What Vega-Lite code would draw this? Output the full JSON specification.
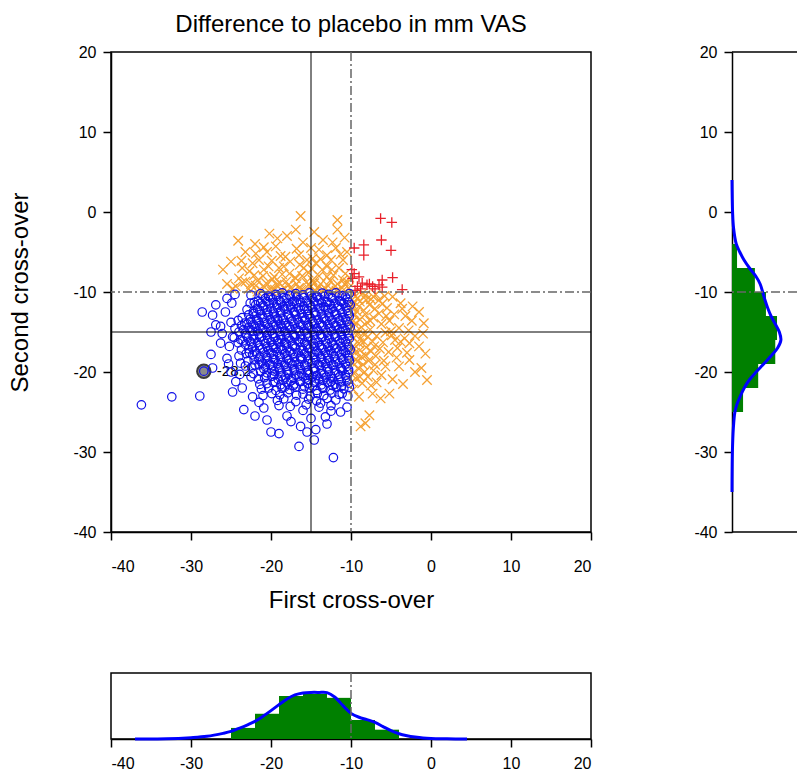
{
"$schema":"https://vega.github.io/schema/vega-lite/v6.json",
"padding":{"left":8,"top":12,"right":0,"bottom":0},
"bounds":"flush",
"spacing":141,
"columns":2,
"config":{
 "font":"Liberation Sans",
 "view":{"stroke":"black","strokeWidth":1.5},
 "axis":{"domainColor":"black","domainWidth":1.5,"tickColor":"black","tickWidth":1.5,"tickSize":8,"labelFont":"Liberation Sans","labelFontSize":16,"labelColor":"black","grid":false,"titleFont":"Liberation Sans","titleFontSize":24,"titleFontWeight":"normal","titleColor":"black"},
 "title":{"font":"Liberation Sans","fontSize":24,"fontWeight":"normal","color":"black"}
},
"datasets":{
 "blue":[
 {"x":-10.2,"y":-10.2},{"x":-11.1,"y":-10.45},{"x":-11.9,"y":-10.1},{"x":-12.8,"y":-10.3},{"x":-13.6,"y":-10.15},{"x":-14.3,"y":-10.5},{"x":-15.2,"y":-10.1},{"x":-16,"y":-10.35},{"x":-16.9,"y":-10.2},{"x":-17.7,"y":-10.4},{"x":-18.6,"y":-10.1},{"x":-19.4,"y":-10.3},{"x":-20.3,"y":-10.5},
 {"x":-10.5,"y":-10.9},{"x":-11.4,"y":-11.1},{"x":-12.3,"y":-10.8},{"x":-13.1,"y":-11.2},{"x":-13.9,"y":-10.9},{"x":-14.8,"y":-10.75},{"x":-15.6,"y":-11.1},{"x":-16.5,"y":-10.95},{"x":-17.3,"y":-11.2},{"x":-18.1,"y":-10.8},{"x":-19,"y":-11.05},{"x":-19.8,"y":-10.9},{"x":-20.7,"y":-10.8},{"x":-21.6,"y":-11.15},
 {"x":-10.1,"y":-11.6},{"x":-10.9,"y":-11.45},{"x":-11.7,"y":-11.75},{"x":-12.6,"y":-11.55},{"x":-13.4,"y":-11.85},{"x":-14.2,"y":-11.5},{"x":-15.1,"y":-11.65},{"x":-15.9,"y":-11.8},{"x":-16.8,"y":-11.4},{"x":-17.6,"y":-11.6},{"x":-18.5,"y":-11.85},{"x":-19.3,"y":-11.55},{"x":-20.2,"y":-11.45},{"x":-21,"y":-11.7},{"x":-21.9,"y":-11.6},{"x":-22.6,"y":-11.4},
 {"x":-10.4,"y":-12.3},{"x":-11.3,"y":-12.15},{"x":-12.1,"y":-12.45},{"x":-12.9,"y":-12.25},{"x":-13.8,"y":-12.1},{"x":-14.6,"y":-12.5},{"x":-15.4,"y":-12.3},{"x":-16.3,"y":-12.2},{"x":-17.1,"y":-12.45},{"x":-18,"y":-12.15},{"x":-18.8,"y":-12.35},{"x":-19.7,"y":-12.5},{"x":-20.5,"y":-12.2},{"x":-21.4,"y":-12.3},{"x":-22.2,"y":-12.45},{"x":-23,"y":-12.2},
 {"x":-10.2,"y":-13},{"x":-11,"y":-13.2},{"x":-11.8,"y":-12.85},{"x":-12.7,"y":-13.1},{"x":-13.5,"y":-13.25},{"x":-14.4,"y":-12.9},{"x":-15.2,"y":-13.05},{"x":-16.1,"y":-13.2},{"x":-16.9,"y":-12.85},{"x":-17.8,"y":-13},{"x":-18.6,"y":-13.25},{"x":-19.5,"y":-13.1},{"x":-20.3,"y":-12.9},{"x":-21.1,"y":-13.15},{"x":-22,"y":-13},{"x":-22.8,"y":-12.85},{"x":-23.6,"y":-13.2},
 {"x":-10.5,"y":-13.7},{"x":-11.4,"y":-13.55},{"x":-12.2,"y":-13.85},{"x":-13.1,"y":-13.6},{"x":-13.9,"y":-13.9},{"x":-14.8,"y":-13.7},{"x":-15.7,"y":-13.5},{"x":-16.5,"y":-13.8},{"x":-17.4,"y":-13.65},{"x":-18.2,"y":-13.9},{"x":-19.1,"y":-13.55},{"x":-19.9,"y":-13.75},{"x":-20.8,"y":-13.85},{"x":-21.6,"y":-13.6},{"x":-22.5,"y":-13.7},{"x":-23.3,"y":-13.9},{"x":-24.1,"y":-13.55},
 {"x":-10.1,"y":-14.4},{"x":-11,"y":-14.6},{"x":-11.8,"y":-14.25},{"x":-12.6,"y":-14.5},{"x":-13.5,"y":-14.3},{"x":-14.3,"y":-14.55},{"x":-15.2,"y":-14.4},{"x":-16,"y":-14.2},{"x":-16.9,"y":-14.6},{"x":-17.7,"y":-14.35},{"x":-18.6,"y":-14.5},{"x":-19.4,"y":-14.25},{"x":-20.3,"y":-14.45},{"x":-21.1,"y":-14.6},{"x":-22,"y":-14.3},{"x":-22.8,"y":-14.45},{"x":-23.7,"y":-14.2},{"x":-24.5,"y":-14.55},
 {"x":-10.4,"y":-15.1},{"x":-11.3,"y":-14.95},{"x":-12.1,"y":-15.25},{"x":-13,"y":-15.05},{"x":-13.8,"y":-15.3},{"x":-14.7,"y":-14.9},{"x":-15.5,"y":-15.15},{"x":-16.4,"y":-15},{"x":-17.2,"y":-15.3},{"x":-18.1,"y":-15.1},{"x":-18.9,"y":-14.95},{"x":-19.8,"y":-15.2},{"x":-20.6,"y":-15.05},{"x":-21.5,"y":-15.25},{"x":-22.3,"y":-14.9},{"x":-23.2,"y":-15.15},{"x":-24,"y":-15},
 {"x":-10.2,"y":-15.8},{"x":-11,"y":-15.95},{"x":-11.9,"y":-15.65},{"x":-12.7,"y":-15.85},{"x":-13.6,"y":-15.7},{"x":-14.4,"y":-16},{"x":-15.3,"y":-15.75},{"x":-16.1,"y":-15.9},{"x":-17,"y":-15.6},{"x":-17.8,"y":-15.8},{"x":-18.7,"y":-15.95},{"x":-19.5,"y":-15.7},{"x":-20.4,"y":-15.85},{"x":-21.2,"y":-15.65},{"x":-22.1,"y":-15.9},{"x":-22.9,"y":-15.75},{"x":-23.8,"y":-15.95},{"x":-24.6,"y":-15.7},
 {"x":-10.5,"y":-16.5},{"x":-11.3,"y":-16.35},{"x":-12.2,"y":-16.6},{"x":-13,"y":-16.45},{"x":-13.9,"y":-16.7},{"x":-14.7,"y":-16.4},{"x":-15.6,"y":-16.55},{"x":-16.4,"y":-16.3},{"x":-17.3,"y":-16.65},{"x":-18.1,"y":-16.5},{"x":-19,"y":-16.35},{"x":-19.8,"y":-16.6},{"x":-20.7,"y":-16.45},{"x":-21.5,"y":-16.7},{"x":-22.4,"y":-16.4},{"x":-23.2,"y":-16.55},{"x":-24.1,"y":-16.35},
 {"x":-10.1,"y":-17.2},{"x":-10.9,"y":-17.35},{"x":-11.8,"y":-17.05},{"x":-12.6,"y":-17.3},{"x":-13.5,"y":-17.15},{"x":-14.3,"y":-17.4},{"x":-15.2,"y":-17.1},{"x":-16,"y":-17.25},{"x":-16.9,"y":-17},{"x":-17.7,"y":-17.35},{"x":-18.6,"y":-17.2},{"x":-19.4,"y":-17.05},{"x":-20.3,"y":-17.3},{"x":-21.1,"y":-17.15},{"x":-22,"y":-17.4},{"x":-22.8,"y":-17.1},{"x":-23.7,"y":-17.25},
 {"x":-10.4,"y":-17.9},{"x":-11.2,"y":-17.75},{"x":-12.1,"y":-18.05},{"x":-12.9,"y":-17.85},{"x":-13.8,"y":-18.1},{"x":-14.6,"y":-17.8},{"x":-15.5,"y":-17.95},{"x":-16.3,"y":-18.1},{"x":-17.2,"y":-17.75},{"x":-18,"y":-17.9},{"x":-18.9,"y":-18.05},{"x":-19.7,"y":-17.8},{"x":-20.6,"y":-17.95},{"x":-21.4,"y":-18.1},{"x":-22.3,"y":-17.85},{"x":-23.1,"y":-17.7},{"x":-24,"y":-18},
 {"x":-10.2,"y":-18.6},{"x":-11,"y":-18.45},{"x":-11.9,"y":-18.75},{"x":-12.7,"y":-18.55},{"x":-13.6,"y":-18.8},{"x":-14.4,"y":-18.5},{"x":-15.3,"y":-18.65},{"x":-16.1,"y":-18.4},{"x":-17,"y":-18.7},{"x":-17.8,"y":-18.55},{"x":-18.7,"y":-18.8},{"x":-19.5,"y":-18.45},{"x":-20.4,"y":-18.6},{"x":-21.2,"y":-18.75},{"x":-22.1,"y":-18.5},{"x":-22.9,"y":-18.65},
 {"x":-10.5,"y":-19.3},{"x":-11.3,"y":-19.45},{"x":-12.2,"y":-19.15},{"x":-13,"y":-19.35},{"x":-13.9,"y":-19.2},{"x":-14.7,"y":-19.5},{"x":-15.6,"y":-19.25},{"x":-16.4,"y":-19.4},{"x":-17.3,"y":-19.1},{"x":-18.1,"y":-19.3},{"x":-19,"y":-19.45},{"x":-19.8,"y":-19.2},{"x":-20.7,"y":-19.35},{"x":-21.5,"y":-19.1},{"x":-22.4,"y":-19.4},{"x":-23.2,"y":-19.25},
 {"x":-10.3,"y":-20},{"x":-11.1,"y":-19.85},{"x":-12,"y":-20.15},{"x":-12.8,"y":-19.95},{"x":-13.7,"y":-20.2},{"x":-14.5,"y":-19.9},{"x":-15.4,"y":-20.05},{"x":-16.2,"y":-20.2},{"x":-17.1,"y":-19.85},{"x":-17.9,"y":-20},{"x":-18.8,"y":-20.15},{"x":-19.6,"y":-19.9},{"x":-20.5,"y":-20.1},{"x":-21.3,"y":-19.95},{"x":-22.2,"y":-20.2},
 {"x":-10.6,"y":-20.7},{"x":-11.4,"y":-20.55},{"x":-12.3,"y":-20.85},{"x":-13.1,"y":-20.65},{"x":-14,"y":-20.9},{"x":-14.8,"y":-20.6},{"x":-15.7,"y":-20.75},{"x":-16.5,"y":-20.5},{"x":-17.4,"y":-20.8},{"x":-18.2,"y":-20.65},{"x":-19.1,"y":-20.9},{"x":-19.9,"y":-20.55},{"x":-20.8,"y":-20.7},{"x":-21.6,"y":-20.85},{"x":-22.5,"y":-20.6},
 {"x":-10.3,"y":-21.4},{"x":-11.2,"y":-21.25},{"x":-12,"y":-21.55},{"x":-12.9,"y":-21.35},{"x":-13.7,"y":-21.6},{"x":-14.6,"y":-21.3},{"x":-15.4,"y":-21.45},{"x":-16.3,"y":-21.2},{"x":-17.1,"y":-21.5},{"x":-18,"y":-21.35},{"x":-18.8,"y":-21.6},{"x":-19.7,"y":-21.3},{"x":-20.5,"y":-21.45},{"x":-21.4,"y":-21.55},
 {"x":-10.9,"y":-22.1},{"x":-11.8,"y":-21.95},{"x":-12.6,"y":-22.25},{"x":-13.5,"y":-22.05},{"x":-14.3,"y":-22.3},{"x":-15.2,"y":-22},{"x":-16,"y":-22.15},{"x":-16.9,"y":-21.9},{"x":-17.7,"y":-22.2},{"x":-18.6,"y":-22.05},{"x":-19.4,"y":-22.3},{"x":-20.3,"y":-22},{"x":-21.2,"y":-22.15},
 {"x":-11.5,"y":-22.8},{"x":-12.4,"y":-22.65},{"x":-13.4,"y":-22.95},{"x":-14.2,"y":-22.7},{"x":-15.1,"y":-23},{"x":-16,"y":-22.75},{"x":-16.8,"y":-22.9},{"x":-17.9,"y":-22.6},{"x":-18.9,"y":-22.85},{"x":-19.9,"y":-22.7},{"x":-21,"y":-22.95},
 {"x":-11.9,"y":-23.5},{"x":-13,"y":-23.3},{"x":-14.3,"y":-23.6},{"x":-15.3,"y":-23.4},{"x":-16.9,"y":-23.7},{"x":-18.4,"y":-23.35},{"x":-19.2,"y":-23.55},
 {"x":-12.5,"y":-24.2},{"x":-14,"y":-24.4},{"x":-15.6,"y":-24.1},{"x":-17.6,"y":-24.3},{"x":-19,"y":-24.2},
 {"x":-10.7,"y":-10.6},{"x":-11.5,"y":-10.5},{"x":-12.5,"y":-10.7},{"x":-13.3,"y":-10.55},{"x":-14.2,"y":-10.65},{"x":-15,"y":-10.5},{"x":-15.9,"y":-10.7},{"x":-16.8,"y":-10.6},{"x":-17.6,"y":-10.5},{"x":-18.4,"y":-10.7},{"x":-19.3,"y":-10.55},{"x":-20.1,"y":-10.65},{"x":-21,"y":-10.5},
 {"x":-10.3,"y":-11.3},{"x":-11.2,"y":-11.2},{"x":-12,"y":-11.4},{"x":-12.9,"y":-11.25},{"x":-13.7,"y":-11.35},{"x":-14.6,"y":-11.2},{"x":-15.4,"y":-11.4},{"x":-16.3,"y":-11.3},{"x":-17.1,"y":-11.2},{"x":-18,"y":-11.4},{"x":-18.8,"y":-11.25},{"x":-19.7,"y":-11.35},{"x":-20.5,"y":-11.2},{"x":-21.3,"y":-11.4},{"x":-22.1,"y":-11.3},
 {"x":-10.6,"y":-12},{"x":-11.5,"y":-11.9},{"x":-12.4,"y":-12.1},{"x":-13.2,"y":-11.95},{"x":-14,"y":-12.05},{"x":-14.9,"y":-11.9},{"x":-15.8,"y":-12.1},{"x":-16.6,"y":-12},{"x":-17.5,"y":-11.9},{"x":-18.3,"y":-12.1},{"x":-19.2,"y":-11.95},{"x":-20,"y":-12.05},{"x":-20.9,"y":-11.9},{"x":-21.7,"y":-12.1},
 {"x":-10.3,"y":-12.7},{"x":-11.1,"y":-12.6},{"x":-12,"y":-12.8},{"x":-12.8,"y":-12.65},{"x":-13.7,"y":-12.75},{"x":-14.5,"y":-12.6},{"x":-15.4,"y":-12.8},{"x":-16.2,"y":-12.7},{"x":-17.1,"y":-12.6},{"x":-17.9,"y":-12.8},{"x":-18.8,"y":-12.65},{"x":-19.6,"y":-12.75},{"x":-20.5,"y":-12.6},{"x":-21.3,"y":-12.8},{"x":-22.2,"y":-12.7},
 {"x":-10.7,"y":-13.4},{"x":-11.6,"y":-13.3},{"x":-12.4,"y":-13.5},{"x":-13.3,"y":-13.35},{"x":-14.1,"y":-13.45},{"x":-15,"y":-13.3},{"x":-15.8,"y":-13.5},{"x":-16.7,"y":-13.4},{"x":-17.5,"y":-13.3},{"x":-18.4,"y":-13.5},{"x":-19.2,"y":-13.35},{"x":-20.1,"y":-13.45},{"x":-20.9,"y":-13.3},{"x":-21.8,"y":-13.5},{"x":-22.6,"y":-13.4},
 {"x":-10.3,"y":-14.1},{"x":-11.2,"y":-14},{"x":-12,"y":-14.2},{"x":-12.9,"y":-14.05},{"x":-13.7,"y":-14.15},{"x":-14.6,"y":-14},{"x":-15.4,"y":-14.2},{"x":-16.3,"y":-14.1},{"x":-17.1,"y":-14},{"x":-18,"y":-14.2},{"x":-18.8,"y":-14.05},{"x":-19.7,"y":-14.15},{"x":-20.5,"y":-14},{"x":-21.4,"y":-14.2},{"x":-22.2,"y":-14.1},{"x":-23,"y":-14},
 {"x":-10.7,"y":-14.8},{"x":-11.5,"y":-14.7},{"x":-12.4,"y":-14.9},{"x":-13.2,"y":-14.75},{"x":-14.1,"y":-14.85},{"x":-14.9,"y":-14.7},{"x":-15.8,"y":-14.9},{"x":-16.6,"y":-14.8},{"x":-17.5,"y":-14.7},{"x":-18.3,"y":-14.9},{"x":-19.2,"y":-14.75},{"x":-20,"y":-14.85},{"x":-20.9,"y":-14.7},{"x":-21.7,"y":-14.9},{"x":-22.6,"y":-14.8},{"x":-23.4,"y":-14.7},
 {"x":-10.3,"y":-15.5},{"x":-11.2,"y":-15.4},{"x":-12,"y":-15.6},{"x":-12.9,"y":-15.45},{"x":-13.7,"y":-15.55},{"x":-14.6,"y":-15.4},{"x":-15.4,"y":-15.6},{"x":-16.3,"y":-15.5},{"x":-17.1,"y":-15.4},{"x":-18,"y":-15.6},{"x":-18.8,"y":-15.45},{"x":-19.7,"y":-15.55},{"x":-20.5,"y":-15.4},{"x":-21.4,"y":-15.6},{"x":-22.2,"y":-15.5},{"x":-23.1,"y":-15.4},
 {"x":-10.7,"y":-16.2},{"x":-11.5,"y":-16.1},{"x":-12.4,"y":-16.3},{"x":-13.2,"y":-16.15},{"x":-14.1,"y":-16.25},{"x":-14.9,"y":-16.1},{"x":-15.8,"y":-16.3},{"x":-16.6,"y":-16.2},{"x":-17.5,"y":-16.1},{"x":-18.3,"y":-16.3},{"x":-19.2,"y":-16.15},{"x":-20,"y":-16.25},{"x":-20.9,"y":-16.1},{"x":-21.7,"y":-16.3},{"x":-22.6,"y":-16.2},{"x":-23.5,"y":-16.1},
 {"x":-10.3,"y":-16.9},{"x":-11.2,"y":-16.8},{"x":-12,"y":-17},{"x":-12.9,"y":-16.85},{"x":-13.7,"y":-16.95},{"x":-14.6,"y":-16.8},{"x":-15.4,"y":-17},{"x":-16.3,"y":-16.9},{"x":-17.1,"y":-16.8},{"x":-18,"y":-17},{"x":-18.8,"y":-16.85},{"x":-19.7,"y":-16.95},{"x":-20.5,"y":-16.8},{"x":-21.4,"y":-17},{"x":-22.3,"y":-16.9},
 {"x":-10.7,"y":-17.6},{"x":-11.5,"y":-17.5},{"x":-12.4,"y":-17.7},{"x":-13.2,"y":-17.55},{"x":-14.1,"y":-17.65},{"x":-14.9,"y":-17.5},{"x":-15.8,"y":-17.7},{"x":-16.6,"y":-17.6},{"x":-17.5,"y":-17.5},{"x":-18.3,"y":-17.7},{"x":-19.2,"y":-17.55},{"x":-20,"y":-17.65},{"x":-20.9,"y":-17.5},{"x":-21.8,"y":-17.7},{"x":-22.7,"y":-17.6},
 {"x":-10.3,"y":-18.3},{"x":-11.2,"y":-18.2},{"x":-12,"y":-18.4},{"x":-12.9,"y":-18.25},{"x":-13.7,"y":-18.35},{"x":-14.6,"y":-18.2},{"x":-15.4,"y":-18.4},{"x":-16.3,"y":-18.3},{"x":-17.1,"y":-18.2},{"x":-18,"y":-18.4},{"x":-18.8,"y":-18.25},{"x":-19.7,"y":-18.35},{"x":-20.5,"y":-18.2},{"x":-21.5,"y":-18.4},
 {"x":-10.7,"y":-19},{"x":-11.5,"y":-18.9},{"x":-12.4,"y":-19.1},{"x":-13.2,"y":-18.95},{"x":-14.1,"y":-19.05},{"x":-14.9,"y":-18.9},{"x":-15.8,"y":-19.1},{"x":-16.6,"y":-19},{"x":-17.5,"y":-18.9},{"x":-18.3,"y":-19.1},{"x":-19.2,"y":-18.95},{"x":-20.1,"y":-19.05},{"x":-21,"y":-18.9},{"x":-22,"y":-19.1},
 {"x":-10.3,"y":-19.7},{"x":-11.2,"y":-19.6},{"x":-12,"y":-19.8},{"x":-12.9,"y":-19.65},{"x":-13.7,"y":-19.75},{"x":-14.6,"y":-19.6},{"x":-15.4,"y":-19.8},{"x":-16.3,"y":-19.7},{"x":-17.1,"y":-19.6},{"x":-18,"y":-19.8},{"x":-18.9,"y":-19.65},{"x":-19.9,"y":-19.75},{"x":-20.9,"y":-19.6},
 {"x":-10.7,"y":-20.4},{"x":-11.6,"y":-20.3},{"x":-12.5,"y":-20.5},{"x":-13.4,"y":-20.35},{"x":-14.3,"y":-20.45},{"x":-15.2,"y":-20.3},{"x":-16,"y":-20.5},{"x":-16.9,"y":-20.4},{"x":-17.8,"y":-20.3},{"x":-18.7,"y":-20.5},{"x":-19.6,"y":-20.35},{"x":-20.6,"y":-20.45},
 {"x":-10.5,"y":-21.1},{"x":-11.5,"y":-21},{"x":-12.5,"y":-21.2},{"x":-13.5,"y":-21.05},{"x":-14.4,"y":-21.15},{"x":-15.3,"y":-21},{"x":-16.4,"y":-21.2},{"x":-17.5,"y":-21.1},{"x":-18.5,"y":-21},{"x":-19.5,"y":-21.2},
 {"x":-11.2,"y":-21.8},{"x":-12.3,"y":-21.7},{"x":-13.6,"y":-21.9},{"x":-14.8,"y":-21.75},{"x":-15.8,"y":-21.85},{"x":-17.2,"y":-21.7},{"x":-18.3,"y":-21.9},
 {"x":-28.6,"y":-12.5},{"x":-27.3,"y":-12.9},{"x":-25.7,"y":-12.5},{"x":-24.9,"y":-11.4},{"x":-26.9,"y":-14.1},{"x":-26.3,"y":-14.3},{"x":-27.5,"y":-15},{"x":-26.1,"y":-15.2},{"x":-26.3,"y":-16.4},{"x":-25.2,"y":-16.8},{"x":-27.3,"y":-19.5},{"x":-28.4,"y":-19.9},{"x":-28.9,"y":-23},{"x":-23.4,"y":-24.7},{"x":-20.9,"y":-24.5},{"x":-20.5,"y":-26},{"x":-20,"y":-27.5},{"x":-19,"y":-27.7},{"x":-16.5,"y":-29.3},{"x":-16.3,"y":-26.8},{"x":-14.6,"y":-28.5},{"x":-14.4,"y":-27.2},{"x":-12.2,"y":-30.7},{"x":-22.3,"y":-23.1},{"x":-23.6,"y":-22},{"x":-24.4,"y":-21.2},{"x":-23.8,"y":-18.9},{"x":-15,"y":-25.8},{"x":-13.2,"y":-25.6},{"x":-12.5,"y":-24.9},{"x":-11.1,"y":-22.7},{"x":-26.9,"y":-11.6},{"x":-25.5,"y":-10.8},{"x":-36.2,"y":-24.1},{"x":-32.4,"y":-23.1},{"x":-27.5,"y":-17.8},{"x":-25.5,"y":-18.3},{"x":-25,"y":-20},{"x":-24.8,"y":-22.5},{"x":-21.5,"y":-23.8},{"x":-18,"y":-25.5},{"x":-13,"y":-26.5},{"x":-15.5,"y":-27.5},{"x":-17.5,"y":-26.2},{"x":-22,"y":-25.5},{"x":-16,"y":-24.8},{"x":-24.5,"y":-10.3},{"x":-22.5,"y":-10.4},{"x":-21.3,"y":-10.2},{"x":-25,"y":-13.8},{"x":-24.8,"y":-15.6},{"x":-25.3,"y":-19},{"x":-23.9,"y":-20.3},{"x":-10.4,"y":-23},{"x":-10.2,"y":-21.9},{"x":-10.5,"y":-24.4},{"x":-11.3,"y":-25},{"x":-13.8,"y":-23.9}
 ],
 "orange":[
 {"x":-16.3,"y":-0.5},{"x":-11.7,"y":-1},{"x":-11.7,"y":-2.2},{"x":-16.9,"y":-2.2},{"x":-14.6,"y":-2.5},{"x":-20.2,"y":-2.7},{"x":-19.2,"y":-3.3},{"x":-24.1,"y":-3.6},{"x":-23.2,"y":-5},{"x":-21.9,"y":-5.2},{"x":-20.5,"y":-5},{"x":-19.4,"y":-4.3},{"x":-18.2,"y":-5.6},{"x":-16.5,"y":-5.4},{"x":-15,"y":-4.5},{"x":-14,"y":-4.7},{"x":-13,"y":-5.4},{"x":-11.9,"y":-4.5},{"x":-25,"y":-6.2},{"x":-23.6,"y":-7},{"x":-22.3,"y":-6.4},{"x":-22.1,"y":-7.9},{"x":-24,"y":-8.3},{"x":-20.9,"y":-7.2},{"x":-19.6,"y":-8.1},{"x":-19,"y":-7},{"x":-17.7,"y":-7.7},{"x":-16.9,"y":-8.3},{"x":-15.9,"y":-7},{"x":-15.5,"y":-6},{"x":-14.4,"y":-6.4},{"x":-13.6,"y":-7.2},{"x":-12.5,"y":-6},{"x":-11.5,"y":-7},{"x":-10.7,"y":-7.7},{"x":-13,"y":-8.1},{"x":-14.8,"y":-8.5},{"x":-23.2,"y":-8.7},{"x":-24.4,"y":-9.3},
 {"x":-22.8,"y":-9.6},{"x":-21.9,"y":-9.2},{"x":-21.2,"y":-9.8},{"x":-20.6,"y":-8.9},{"x":-20,"y":-9.5},{"x":-19.3,"y":-9.1},{"x":-18.7,"y":-9.8},{"x":-18.1,"y":-8.7},{"x":-17.5,"y":-9.4},{"x":-16.8,"y":-9},{"x":-16.2,"y":-9.7},{"x":-15.6,"y":-8.8},{"x":-15,"y":-9.3},{"x":-14.4,"y":-9.9},{"x":-13.8,"y":-9},{"x":-13.2,"y":-9.6},{"x":-12.6,"y":-8.6},{"x":-12,"y":-9.3},{"x":-11.4,"y":-9.8},{"x":-10.8,"y":-9},{"x":-10.3,"y":-9.5},{"x":-17,"y":-8.2},{"x":-18.6,"y":-7.8},{"x":-19.8,"y":-8.4},{"x":-21,"y":-8},{"x":-14,"y":-8},{"x":-12.2,"y":-7.9},{"x":-11,"y":-8.5},{"x":-15.3,"y":-7.6},{"x":-13,"y":-6.8},{"x":-16.4,"y":-6.6},{"x":-17.6,"y":-6.2},{"x":-20.3,"y":-6.8},{"x":-21.5,"y":-6},{"x":-18.8,"y":-5.5},{"x":-11,"y":-6},{"x":-10.5,"y":-5},{"x":-24.8,"y":-9.6},{"x":-23.6,"y":-8.8},{"x":-22.5,"y":-9},{"x":-14.8,"y":-5.8},{"x":-12.3,"y":-3.8},{"x":-18,"y":-3},{"x":-13.5,"y":-3.5},{"x":-10.8,"y":-3.2},{"x":-16,"y":-3.8},{"x":-26,"y":-7.2},{"x":-25.5,"y":-9},{"x":-22,"y":-4},{"x":-17.2,"y":-9.9},{"x":-19.9,"y":-9.9},{"x":-12.8,"y":-9.9},{"x":-10.2,"y":-8.2},{"x":-15.8,"y":-9.9},{"x":-21.7,"y":-9.95},{"x":-11.8,"y":-9.85},{"x":-18.3,"y":-9.6},{"x":-14.2,"y":-9.5},
 {"x":-20.8,"y":-9.4},{"x":-19.5,"y":-9.7},{"x":-18.9,"y":-8.9},{"x":-17.9,"y":-9.2},{"x":-16.5,"y":-9.5},{"x":-15.3,"y":-9.1},{"x":-14.6,"y":-8.9},{"x":-13.5,"y":-9.7},{"x":-12.9,"y":-9.2},{"x":-11.7,"y":-9},{"x":-10.9,"y":-9.7},{"x":-10.4,"y":-8.8},{"x":-12.4,"y":-7.2},{"x":-14.9,"y":-7.1},{"x":-16.1,"y":-8},{"x":-18.4,"y":-6.8},{"x":-19.9,"y":-6.1},{"x":-21.7,"y":-8.6},{"x":-22.7,"y":-7.4},{"x":-11.3,"y":-5.3},{"x":-13.8,"y":-5.9},{"x":-16.8,"y":-4.6},{"x":-20.9,"y":-4.4},{"x":-23.7,"y":-6.1},
 {"x":-9.7,"y":-10.3},{"x":-9.2,"y":-10.8},{"x":-8.6,"y":-10.2},{"x":-8.2,"y":-10.4},{"x":-7.5,"y":-10.9},{"x":-6.9,"y":-10.3},{"x":-6.5,"y":-11},{"x":-5.8,"y":-10.5},{"x":-4.8,"y":-10.6},{"x":-3.8,"y":-11.4},{"x":-2.3,"y":-11.8},{"x":-1.5,"y":-12.5},{"x":-0.9,"y":-13.9},{"x":-9.8,"y":-11.6},{"x":-9,"y":-11.8},{"x":-8.4,"y":-12.3},{"x":-7.7,"y":-11.6},{"x":-6.5,"y":-12.7},{"x":-5.5,"y":-12},{"x":-4.6,"y":-12.8},{"x":-3.2,"y":-13},{"x":-9.6,"y":-12.9},{"x":-8.9,"y":-13.4},{"x":-8,"y":-13.8},{"x":-7.2,"y":-13.2},{"x":-6.2,"y":-14},{"x":-5.2,"y":-13.6},{"x":-4,"y":-14.5},{"x":-2.8,"y":-14.8},{"x":-9.9,"y":-14.3},{"x":-9.3,"y":-14.9},{"x":-8.5,"y":-15.2},{"x":-7.6,"y":-14.7},{"x":-6.8,"y":-15.5},{"x":-5.7,"y":-15.1},{"x":-4.5,"y":-16},{"x":-3.3,"y":-15.8},{"x":-2.7,"y":-16.4},{"x":-1.5,"y":-16.8},{"x":-0.7,"y":-17.7},{"x":-9.7,"y":-15.8},{"x":-9,"y":-16.4},{"x":-8.1,"y":-16.9},{"x":-7.3,"y":-16.2},{"x":-6.4,"y":-17.1},{"x":-5.3,"y":-17.5},{"x":-4.2,"y":-17},{"x":-2.7,"y":-18.5},{"x":-9.5,"y":-17.6},{"x":-8.7,"y":-18.1},{"x":-7.8,"y":-18.6},{"x":-6.9,"y":-18},{"x":-5.7,"y":-19.3},{"x":-4,"y":-19.3},{"x":-9.8,"y":-18.9},{"x":-9.1,"y":-19.5},{"x":-8.3,"y":-20},{"x":-7.2,"y":-19.8},{"x":-6.2,"y":-20.4},{"x":-4.8,"y":-20.9},{"x":-0.5,"y":-21},{"x":-9.4,"y":-20.8},{"x":-8.6,"y":-21.4},{"x":-7.5,"y":-21.7},{"x":-9,"y":-23.1},{"x":-7.3,"y":-22.7},{"x":-6.3,"y":-23.3},{"x":-5.2,"y":-22.7},{"x":-9.7,"y":-22.2},{"x":-7.7,"y":-25.4},{"x":-8.8,"y":-26.8},{"x":-8.2,"y":-26.4},{"x":-3.5,"y":-21.5},{"x":-2,"y":-20},{"x":-1.2,"y":-19.5},{"x":-3,"y":-17.6},{"x":-9.9,"y":-12},{"x":-9.6,"y":-11.2},{"x":-9.5,"y":-14.1},{"x":-9.4,"y":-18.4},{"x":-9.85,"y":-16.9},{"x":-9.9,"y":-21.2},{"x":-8.9,"y":-15.9},{"x":-7,"y":-12.1},{"x":-5,"y":-14.9},{"x":-6,"y":-16.3},{"x":-4.3,"y":-18.2},{"x":-7.9,"y":-20.6},{"x":-3.6,"y":-12.1},{"x":-2.4,"y":-13.6},
 {"x":-9.4,"y":-10.5},{"x":-8.9,"y":-11.2},{"x":-8.1,"y":-11},{"x":-7.2,"y":-10.6},{"x":-6.1,"y":-11.5},{"x":-9.3,"y":-12.4},{"x":-8.2,"y":-12.8},{"x":-7.6,"y":-13.6},{"x":-9.7,"y":-13.6},{"x":-8.7,"y":-14.4},{"x":-7.9,"y":-15.6},{"x":-9.2,"y":-15.3},{"x":-8.4,"y":-16.2},{"x":-7.1,"y":-16.8},{"x":-9.6,"y":-17.1},{"x":-8.9,"y":-17.3},{"x":-8.2,"y":-17.9},{"x":-7.5,"y":-17.4},{"x":-9.2,"y":-18.7},{"x":-8.5,"y":-19.1},{"x":-7,"y":-19.1},{"x":-9.6,"y":-20.2},{"x":-8.9,"y":-20.6},{"x":-6.8,"y":-21.3},{"x":-5.9,"y":-18.6},{"x":-4.9,"y":-15.4},{"x":-3.8,"y":-16.2},{"x":-5.6,"y":-13},{"x":-2,"y":-15.5},{"x":-1,"y":-15.2}
 ],
 "red":[
 {"x":-6.3,"y":-0.8},{"x":-4.9,"y":-1.3},{"x":-6.2,"y":-3.5},{"x":-5,"y":-4.8},{"x":-8.4,"y":-4.1},{"x":-9.6,"y":-4.5},{"x":-8.4,"y":-5.4},{"x":-4.8,"y":-8.2},{"x":-3.6,"y":-9.7},{"x":-6.1,"y":-8.5},{"x":-9.6,"y":-7.7},{"x":-9,"y":-8.1},{"x":-8.6,"y":-8.9},{"x":-8,"y":-9.1},{"x":-7.3,"y":-9.3},{"x":-6.5,"y":-9.1},{"x":-6.1,"y":-9.4},{"x":-9.2,"y":-9.3},{"x":-8.8,"y":-9.6},{"x":-7.7,"y":-9},{"x":-9.9,"y":-7.2},{"x":-9.8,"y":-8.3},{"x":-7,"y":-9.6},{"x":-9.5,"y":-9.8}
 ],
 "hx":[{"lo":-25,"hi":-22,"n":57},{"lo":-22,"hi":-19,"n":130},{"lo":-19,"hi":-16,"n":221},{"lo":-16,"hi":-13,"n":233},{"lo":-13,"hi":-10,"n":212},{"lo":-10,"hi":-7,"n":98},{"lo":-7,"hi":-4,"n":48}],
 "hy":[{"lo":-7,"hi":-4,"n":26},{"lo":-10,"hi":-7,"n":118},{"lo":-13,"hi":-10,"n":175},{"lo":-16,"hi":-13,"n":232},{"lo":-19,"hi":-16,"n":223},{"lo":-22,"hi":-19,"n":135},{"lo":-25,"hi":-22,"n":57}],
 "cx":[{"v":-37,"n":0},{"v":-33,"n":1},{"v":-30,"n":7},{"v":-28,"n":14},{"v":-26,"n":29},{"v":-25,"n":39},{"v":-24,"n":55},{"v":-23,"n":72},{"v":-22,"n":91},{"v":-21,"n":117},{"v":-20,"n":146},{"v":-19,"n":177},{"v":-18,"n":206},{"v":-17,"n":227},{"v":-16,"n":237},{"v":-15,"n":240},{"v":-14,"n":240},{"v":-13,"n":239},{"v":-12,"n":215},{"v":-11,"n":172},{"v":-10,"n":132},{"v":-9,"n":112},{"v":-8,"n":100},{"v":-7,"n":86},{"v":-6,"n":64},{"v":-5,"n":43},{"v":-4,"n":27},{"v":-3,"n":17},{"v":-2,"n":10},{"v":-1,"n":5},{"v":0,"n":2.5},{"v":2,"n":1},{"v":4.5,"n":0}],
 "cy":[{"v":4,"n":0},{"v":2,"n":1},{"v":0,"n":3},{"v":-2,"n":8},{"v":-4,"n":22},{"v":-5,"n":40},{"v":-6,"n":62},{"v":-7,"n":90},{"v":-8,"n":122},{"v":-9,"n":145},{"v":-10,"n":158},{"v":-11,"n":170},{"v":-12,"n":184},{"v":-13,"n":201},{"v":-14,"n":223},{"v":-15,"n":244},{"v":-16,"n":252},{"v":-17,"n":235},{"v":-18,"n":201},{"v":-19,"n":163},{"v":-20,"n":124},{"v":-21,"n":89},{"v":-22,"n":63},{"v":-23,"n":43},{"v":-24,"n":26},{"v":-25,"n":15},{"v":-27,"n":7},{"v":-30,"n":2},{"v":-35,"n":0}]
},
"concat":[
  {"width":480,"height":480,
   "title":{"text":"Difference to placebo in mm VAS","offset":7},
   "layer":[
    {"data":{"name":"orange"},"mark":{"type":"point","shape":"M-1,-1L1,1M-1,1L1,-1","filled":false,"stroke":"#f5a133","strokeWidth":1.3,"size":90,"opacity":1},
     "encoding":{"x":{"field":"x","type":"quantitative","scale":{"domain":[-40,20],"nice":false},"axis":{"values":[-40,-30,-20,-10,0,10,20],"title":"First cross-over","labelPadding":18,"titlePadding":14,"labelExpr":"toString(datum.value)"}},
                 "y":{"field":"y","type":"quantitative","scale":{"domain":[-40,20],"nice":false},"axis":{"values":[-40,-30,-20,-10,0,10,20],"title":"Second cross-over","labelPadding":7,"titlePadding":40,"labelExpr":"toString(datum.value)"}}}},
    {"data":{"name":"red"},"mark":{"type":"point","shape":"M-1,0L1,0M0,-1L0,1","filled":false,"stroke":"#e8202a","strokeWidth":1.3,"size":110,"opacity":1},
     "encoding":{"x":{"field":"x","type":"quantitative"},"y":{"field":"y","type":"quantitative"}}},
    {"data":{"values":[{"x":-28.4,"y":-19.9,"t":"-28.2"}]},"mark":{"type":"point","shape":"circle","filled":true,"fill":"#8a8a8a","stroke":"#3a3a3a","strokeWidth":2,"size":180,"opacity":1},
     "encoding":{"x":{"field":"x","type":"quantitative"},"y":{"field":"y","type":"quantitative"}}},
    {"data":{"values":[{"x":-28.4,"y":-19.9,"t":"-28.2"}]},"mark":{"type":"text","align":"left","baseline":"middle","dx":13,"fontSize":15,"color":"black"},
     "encoding":{"x":{"field":"x","type":"quantitative"},"y":{"field":"y","type":"quantitative"},"text":{"field":"t"}}},
    {"data":{"name":"blue"},"mark":{"type":"point","shape":"circle","filled":false,"stroke":"#1010e8","strokeWidth":1.2,"size":72,"opacity":1},
     "encoding":{"x":{"field":"x","type":"quantitative"},"y":{"field":"y","type":"quantitative"}}},
    {"data":{"values":[{"x":-15}]},"mark":{"type":"rule","color":"black","strokeWidth":1},"encoding":{"x":{"field":"x","type":"quantitative"}}},
    {"data":{"values":[{"y":-15}]},"mark":{"type":"rule","color":"black","strokeWidth":1},"encoding":{"y":{"field":"y","type":"quantitative"}}},
    {"data":{"values":[{"x":-10}]},"mark":{"type":"rule","color":"#666666","strokeWidth":1.5,"strokeDash":[9,3,2,3]},"encoding":{"x":{"field":"x","type":"quantitative"}}},
    {"data":{"values":[{"y":-10}]},"mark":{"type":"rule","color":"#666666","strokeWidth":1.5,"strokeDash":[9,3,2,3]},"encoding":{"y":{"field":"y","type":"quantitative"}}}
   ]},
  {"width":65,"height":480,"view":{"stroke":null},
   "layer":[
    {"data":{"name":"hy"},"mark":{"type":"rect","fill":"#008000"},
     "encoding":{"y":{"field":"lo","type":"quantitative","scale":{"domain":[-40,20],"nice":false},"axis":{"values":[-40,-30,-20,-10,0,10,20],"title":null,"labelPadding":7,"labelExpr":"toString(datum.value)"}},"y2":{"field":"hi"},
                 "x":{"field":"n","type":"quantitative","scale":{"domain":[0,335],"nice":false},"axis":null},"x2":{"datum":0}}},
    {"data":{"name":"cy"},"mark":{"type":"line","color":"#0000ff","strokeWidth":3,"interpolate":"catmull-rom"},
     "encoding":{"y":{"field":"v","type":"quantitative","axis":{"values":[-40,-30,-20,-10,0,10,20],"title":null,"labelPadding":7,"labelExpr":"toString(datum.value)"}},"x":{"field":"n","type":"quantitative","axis":null},"order":{"field":"v","type":"quantitative"}}},
    {"data":{"values":[{"y":-10}]},"mark":{"type":"rule","color":"#666666","strokeWidth":1.5,"strokeDash":[9,3,2,3]},"encoding":{"y":{"field":"y","type":"quantitative","axis":{"values":[-40,-30,-20,-10,0,10,20],"title":null,"labelPadding":7,"labelExpr":"toString(datum.value)"}}}},
    {"data":{"values":[{"y":20},{"y":-40}]},"mark":{"type":"rule","color":"black","strokeWidth":1.5},"encoding":{"y":{"field":"y","type":"quantitative","axis":{"values":[-40,-30,-20,-10,0,10,20],"title":null,"labelPadding":7,"labelExpr":"toString(datum.value)"}}}}
   ]},
 {"width":480,"height":66,
  "layer":[
   {"data":{"name":"hx"},"mark":{"type":"rect","fill":"#008000"},
    "encoding":{"x":{"field":"lo","type":"quantitative","scale":{"domain":[-40,20],"nice":false},"axis":{"values":[-40,-30,-20,-10,0,10,20],"title":null,"labelPadding":8,"labelExpr":"toString(datum.value)"}},"x2":{"field":"hi"},
                "y":{"field":"n","type":"quantitative","scale":{"domain":[0,340],"nice":false},"axis":null},"y2":{"datum":0}}},
   {"data":{"name":"cx"},"mark":{"type":"line","color":"#0000ff","strokeWidth":3,"interpolate":"catmull-rom"},
    "encoding":{"x":{"field":"v","type":"quantitative","axis":{"values":[-40,-30,-20,-10,0,10,20],"title":null,"labelPadding":8,"labelExpr":"toString(datum.value)"}},"y":{"field":"n","type":"quantitative","axis":null}}},
   {"data":{"values":[{"x":-10}]},"mark":{"type":"rule","color":"#666666","strokeWidth":1.5,"strokeDash":[9,3,2,3]},"encoding":{"x":{"field":"x","type":"quantitative","axis":{"values":[-40,-30,-20,-10,0,10,20],"title":null,"labelPadding":8,"labelExpr":"toString(datum.value)"}}}}
  ]}
]
}
